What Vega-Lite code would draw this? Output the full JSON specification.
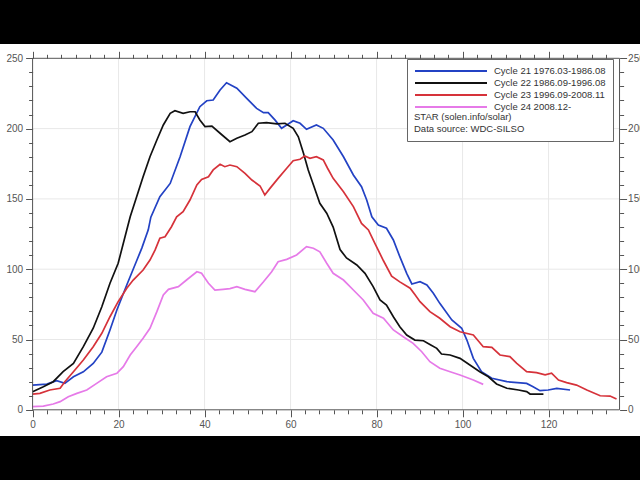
{
  "$schema": "https://vega.github.io/schema/vega-lite/v6.json",
  "description": "Smoothed sunspot number by month of solar cycle, cycles 21-24",
  "width": 640,
  "height": 392,
  "autosize": "none",
  "padding": {"top": 44, "bottom": 44, "left": 0, "right": 0},
  "background": "black",
  "config": {
    "view": {"fill": "white", "stroke": null},
    "font": "Liberation Sans"
  },
  "datasets": {
    "gridx": [{"v": 20}, {"v": 40}, {"v": 60}, {"v": 80}, {"v": 100}, {"v": 120}],
    "gridy": [{"v": 50}, {"v": 100}, {"v": 150}, {"v": 200}],
    "ssn": [
      {"cycle": "Cycle 21 1976.03-1986.08", "month": 0, "ssn": 17.6},
      {"cycle": "Cycle 21 1976.03-1986.08", "month": 3.3, "ssn": 18.3},
      {"cycle": "Cycle 21 1976.03-1986.08", "month": 5.6, "ssn": 20.7},
      {"cycle": "Cycle 21 1976.03-1986.08", "month": 7.5, "ssn": 18.8},
      {"cycle": "Cycle 21 1976.03-1986.08", "month": 9.5, "ssn": 23.5},
      {"cycle": "Cycle 21 1976.03-1986.08", "month": 11.8, "ssn": 27},
      {"cycle": "Cycle 21 1976.03-1986.08", "month": 14.1, "ssn": 33},
      {"cycle": "Cycle 21 1976.03-1986.08", "month": 16.1, "ssn": 41},
      {"cycle": "Cycle 21 1976.03-1986.08", "month": 18, "ssn": 56.8},
      {"cycle": "Cycle 21 1976.03-1986.08", "month": 19.6, "ssn": 71},
      {"cycle": "Cycle 21 1976.03-1986.08", "month": 21.9, "ssn": 88.8},
      {"cycle": "Cycle 21 1976.03-1986.08", "month": 24.2, "ssn": 106},
      {"cycle": "Cycle 21 1976.03-1986.08", "month": 25.4, "ssn": 115},
      {"cycle": "Cycle 21 1976.03-1986.08", "month": 26.9, "ssn": 128},
      {"cycle": "Cycle 21 1976.03-1986.08", "month": 27.5, "ssn": 137},
      {"cycle": "Cycle 21 1976.03-1986.08", "month": 29.6, "ssn": 151.6},
      {"cycle": "Cycle 21 1976.03-1986.08", "month": 32, "ssn": 161},
      {"cycle": "Cycle 21 1976.03-1986.08", "month": 34.3, "ssn": 180},
      {"cycle": "Cycle 21 1976.03-1986.08", "month": 36.6, "ssn": 201.4},
      {"cycle": "Cycle 21 1976.03-1986.08", "month": 38.9, "ssn": 215.6},
      {"cycle": "Cycle 21 1976.03-1986.08", "month": 40.5, "ssn": 219.8},
      {"cycle": "Cycle 21 1976.03-1986.08", "month": 42, "ssn": 220.3},
      {"cycle": "Cycle 21 1976.03-1986.08", "month": 43.6, "ssn": 227.5},
      {"cycle": "Cycle 21 1976.03-1986.08", "month": 45.1, "ssn": 232.6},
      {"cycle": "Cycle 21 1976.03-1986.08", "month": 47.5, "ssn": 228.7},
      {"cycle": "Cycle 21 1976.03-1986.08", "month": 49.8, "ssn": 221.5},
      {"cycle": "Cycle 21 1976.03-1986.08", "month": 52.1, "ssn": 214.4},
      {"cycle": "Cycle 21 1976.03-1986.08", "month": 53.7, "ssn": 211.3},
      {"cycle": "Cycle 21 1976.03-1986.08", "month": 54.8, "ssn": 211.3},
      {"cycle": "Cycle 21 1976.03-1986.08", "month": 56.4, "ssn": 206},
      {"cycle": "Cycle 21 1976.03-1986.08", "month": 57.9, "ssn": 200.2},
      {"cycle": "Cycle 21 1976.03-1986.08", "month": 59.1, "ssn": 202.6},
      {"cycle": "Cycle 21 1976.03-1986.08", "month": 60.6, "ssn": 205.6},
      {"cycle": "Cycle 21 1976.03-1986.08", "month": 62.2, "ssn": 203.8},
      {"cycle": "Cycle 21 1976.03-1986.08", "month": 63.7, "ssn": 199.5},
      {"cycle": "Cycle 21 1976.03-1986.08", "month": 66, "ssn": 202.6},
      {"cycle": "Cycle 21 1976.03-1986.08", "month": 67.6, "ssn": 200.2},
      {"cycle": "Cycle 21 1976.03-1986.08", "month": 69.9, "ssn": 191.9},
      {"cycle": "Cycle 21 1976.03-1986.08", "month": 72.3, "ssn": 180},
      {"cycle": "Cycle 21 1976.03-1986.08", "month": 74.6, "ssn": 167},
      {"cycle": "Cycle 21 1976.03-1986.08", "month": 76.5, "ssn": 158.7},
      {"cycle": "Cycle 21 1976.03-1986.08", "month": 77.7, "ssn": 149.2},
      {"cycle": "Cycle 21 1976.03-1986.08", "month": 78.9, "ssn": 137.3},
      {"cycle": "Cycle 21 1976.03-1986.08", "month": 80.4, "ssn": 131.4},
      {"cycle": "Cycle 21 1976.03-1986.08", "month": 82.3, "ssn": 129.1},
      {"cycle": "Cycle 21 1976.03-1986.08", "month": 83.9, "ssn": 120.8},
      {"cycle": "Cycle 21 1976.03-1986.08", "month": 85.4, "ssn": 108.9},
      {"cycle": "Cycle 21 1976.03-1986.08", "month": 87, "ssn": 97.1},
      {"cycle": "Cycle 21 1976.03-1986.08", "month": 88.2, "ssn": 89.5},
      {"cycle": "Cycle 21 1976.03-1986.08", "month": 90.1, "ssn": 91.1},
      {"cycle": "Cycle 21 1976.03-1986.08", "month": 91.7, "ssn": 88.8},
      {"cycle": "Cycle 21 1976.03-1986.08", "month": 93.2, "ssn": 82.9},
      {"cycle": "Cycle 21 1976.03-1986.08", "month": 94.7, "ssn": 75.7},
      {"cycle": "Cycle 21 1976.03-1986.08", "month": 97.5, "ssn": 63.9},
      {"cycle": "Cycle 21 1976.03-1986.08", "month": 99.8, "ssn": 58},
      {"cycle": "Cycle 21 1976.03-1986.08", "month": 101, "ssn": 49.6},
      {"cycle": "Cycle 21 1976.03-1986.08", "month": 102.5, "ssn": 36.6},
      {"cycle": "Cycle 21 1976.03-1986.08", "month": 104.4, "ssn": 27.1},
      {"cycle": "Cycle 21 1976.03-1986.08", "month": 106.8, "ssn": 22.4},
      {"cycle": "Cycle 21 1976.03-1986.08", "month": 110.3, "ssn": 20},
      {"cycle": "Cycle 21 1976.03-1986.08", "month": 114.9, "ssn": 18.8},
      {"cycle": "Cycle 21 1976.03-1986.08", "month": 116.4, "ssn": 16.4},
      {"cycle": "Cycle 21 1976.03-1986.08", "month": 118, "ssn": 13.6},
      {"cycle": "Cycle 21 1976.03-1986.08", "month": 119.9, "ssn": 14.1},
      {"cycle": "Cycle 21 1976.03-1986.08", "month": 121.9, "ssn": 15.3},
      {"cycle": "Cycle 21 1976.03-1986.08", "month": 125, "ssn": 14.1},
      {"cycle": "Cycle 22 1986.09-1996.08", "month": 0, "ssn": 12.9},
      {"cycle": "Cycle 22 1986.09-1996.08", "month": 2.5, "ssn": 16.4},
      {"cycle": "Cycle 22 1986.09-1996.08", "month": 4.8, "ssn": 20},
      {"cycle": "Cycle 22 1986.09-1996.08", "month": 7.1, "ssn": 27.1},
      {"cycle": "Cycle 22 1986.09-1996.08", "month": 9.5, "ssn": 33},
      {"cycle": "Cycle 22 1986.09-1996.08", "month": 11.8, "ssn": 44.9},
      {"cycle": "Cycle 22 1986.09-1996.08", "month": 14.1, "ssn": 58},
      {"cycle": "Cycle 22 1986.09-1996.08", "month": 16.1, "ssn": 73.3},
      {"cycle": "Cycle 22 1986.09-1996.08", "month": 18, "ssn": 90},
      {"cycle": "Cycle 22 1986.09-1996.08", "month": 19.9, "ssn": 104.2},
      {"cycle": "Cycle 22 1986.09-1996.08", "month": 21.9, "ssn": 127.9},
      {"cycle": "Cycle 22 1986.09-1996.08", "month": 22.7, "ssn": 137.3},
      {"cycle": "Cycle 22 1986.09-1996.08", "month": 24.2, "ssn": 151.6},
      {"cycle": "Cycle 22 1986.09-1996.08", "month": 25.7, "ssn": 165.8},
      {"cycle": "Cycle 22 1986.09-1996.08", "month": 27.3, "ssn": 180},
      {"cycle": "Cycle 22 1986.09-1996.08", "month": 28.9, "ssn": 191.9},
      {"cycle": "Cycle 22 1986.09-1996.08", "month": 30.4, "ssn": 202.6},
      {"cycle": "Cycle 22 1986.09-1996.08", "month": 32, "ssn": 210.9},
      {"cycle": "Cycle 22 1986.09-1996.08", "month": 33.1, "ssn": 212.7},
      {"cycle": "Cycle 22 1986.09-1996.08", "month": 35, "ssn": 210.9},
      {"cycle": "Cycle 22 1986.09-1996.08", "month": 36.6, "ssn": 212},
      {"cycle": "Cycle 22 1986.09-1996.08", "month": 37.8, "ssn": 212},
      {"cycle": "Cycle 22 1986.09-1996.08", "month": 38.9, "ssn": 206.1},
      {"cycle": "Cycle 22 1986.09-1996.08", "month": 40.1, "ssn": 201.4},
      {"cycle": "Cycle 22 1986.09-1996.08", "month": 41.7, "ssn": 201.8},
      {"cycle": "Cycle 22 1986.09-1996.08", "month": 43.6, "ssn": 196.7},
      {"cycle": "Cycle 22 1986.09-1996.08", "month": 45.9, "ssn": 190.7},
      {"cycle": "Cycle 22 1986.09-1996.08", "month": 47.5, "ssn": 193.1},
      {"cycle": "Cycle 22 1986.09-1996.08", "month": 49.4, "ssn": 195.4},
      {"cycle": "Cycle 22 1986.09-1996.08", "month": 51, "ssn": 197.8},
      {"cycle": "Cycle 22 1986.09-1996.08", "month": 52.5, "ssn": 203.8},
      {"cycle": "Cycle 22 1986.09-1996.08", "month": 54.4, "ssn": 204.2},
      {"cycle": "Cycle 22 1986.09-1996.08", "month": 56.8, "ssn": 203.3},
      {"cycle": "Cycle 22 1986.09-1996.08", "month": 58.7, "ssn": 203.8},
      {"cycle": "Cycle 22 1986.09-1996.08", "month": 60.6, "ssn": 200.2},
      {"cycle": "Cycle 22 1986.09-1996.08", "month": 61.8, "ssn": 194.2},
      {"cycle": "Cycle 22 1986.09-1996.08", "month": 63, "ssn": 182.4},
      {"cycle": "Cycle 22 1986.09-1996.08", "month": 64.1, "ssn": 170.6},
      {"cycle": "Cycle 22 1986.09-1996.08", "month": 65.3, "ssn": 160},
      {"cycle": "Cycle 22 1986.09-1996.08", "month": 66.8, "ssn": 146.9},
      {"cycle": "Cycle 22 1986.09-1996.08", "month": 68.4, "ssn": 139.8},
      {"cycle": "Cycle 22 1986.09-1996.08", "month": 69.9, "ssn": 130},
      {"cycle": "Cycle 22 1986.09-1996.08", "month": 71.5, "ssn": 114},
      {"cycle": "Cycle 22 1986.09-1996.08", "month": 73, "ssn": 108},
      {"cycle": "Cycle 22 1986.09-1996.08", "month": 75.4, "ssn": 103},
      {"cycle": "Cycle 22 1986.09-1996.08", "month": 77.3, "ssn": 97.1},
      {"cycle": "Cycle 22 1986.09-1996.08", "month": 79.2, "ssn": 87.6},
      {"cycle": "Cycle 22 1986.09-1996.08", "month": 80.8, "ssn": 78.1},
      {"cycle": "Cycle 22 1986.09-1996.08", "month": 82.3, "ssn": 74.5},
      {"cycle": "Cycle 22 1986.09-1996.08", "month": 83.9, "ssn": 66.2},
      {"cycle": "Cycle 22 1986.09-1996.08", "month": 85.4, "ssn": 59.1},
      {"cycle": "Cycle 22 1986.09-1996.08", "month": 87, "ssn": 53.2},
      {"cycle": "Cycle 22 1986.09-1996.08", "month": 88.9, "ssn": 49.6},
      {"cycle": "Cycle 22 1986.09-1996.08", "month": 90.9, "ssn": 49.1},
      {"cycle": "Cycle 22 1986.09-1996.08", "month": 92.4, "ssn": 46.5},
      {"cycle": "Cycle 22 1986.09-1996.08", "month": 94, "ssn": 43.7},
      {"cycle": "Cycle 22 1986.09-1996.08", "month": 95.1, "ssn": 39.7},
      {"cycle": "Cycle 22 1986.09-1996.08", "month": 97.1, "ssn": 39},
      {"cycle": "Cycle 22 1986.09-1996.08", "month": 99.4, "ssn": 36.6},
      {"cycle": "Cycle 22 1986.09-1996.08", "month": 101.7, "ssn": 31.9},
      {"cycle": "Cycle 22 1986.09-1996.08", "month": 104, "ssn": 27.1},
      {"cycle": "Cycle 22 1986.09-1996.08", "month": 106, "ssn": 23.5},
      {"cycle": "Cycle 22 1986.09-1996.08", "month": 107.9, "ssn": 18.4},
      {"cycle": "Cycle 22 1986.09-1996.08", "month": 110.3, "ssn": 15.3},
      {"cycle": "Cycle 22 1986.09-1996.08", "month": 113, "ssn": 14.1},
      {"cycle": "Cycle 22 1986.09-1996.08", "month": 114.9, "ssn": 12.9},
      {"cycle": "Cycle 22 1986.09-1996.08", "month": 115.7, "ssn": 11.2},
      {"cycle": "Cycle 22 1986.09-1996.08", "month": 118.8, "ssn": 11.2},
      {"cycle": "Cycle 23 1996.09-2008.11", "month": 0, "ssn": 11.2},
      {"cycle": "Cycle 23 1996.09-2008.11", "month": 1.7, "ssn": 11.7},
      {"cycle": "Cycle 23 1996.09-2008.11", "month": 4, "ssn": 14.1},
      {"cycle": "Cycle 23 1996.09-2008.11", "month": 6.4, "ssn": 15.3},
      {"cycle": "Cycle 23 1996.09-2008.11", "month": 7.5, "ssn": 20},
      {"cycle": "Cycle 23 1996.09-2008.11", "month": 9.5, "ssn": 27.1},
      {"cycle": "Cycle 23 1996.09-2008.11", "month": 11.8, "ssn": 35.4},
      {"cycle": "Cycle 23 1996.09-2008.11", "month": 14.1, "ssn": 44.9},
      {"cycle": "Cycle 23 1996.09-2008.11", "month": 16.1, "ssn": 54.4},
      {"cycle": "Cycle 23 1996.09-2008.11", "month": 18, "ssn": 66.2},
      {"cycle": "Cycle 23 1996.09-2008.11", "month": 19.9, "ssn": 76.9},
      {"cycle": "Cycle 23 1996.09-2008.11", "month": 21.9, "ssn": 86.4},
      {"cycle": "Cycle 23 1996.09-2008.11", "month": 23.4, "ssn": 92.3},
      {"cycle": "Cycle 23 1996.09-2008.11", "month": 25.7, "ssn": 99.4},
      {"cycle": "Cycle 23 1996.09-2008.11", "month": 27.3, "ssn": 106.5},
      {"cycle": "Cycle 23 1996.09-2008.11", "month": 28.5, "ssn": 113.7},
      {"cycle": "Cycle 23 1996.09-2008.11", "month": 29.6, "ssn": 122},
      {"cycle": "Cycle 23 1996.09-2008.11", "month": 30.8, "ssn": 123.1},
      {"cycle": "Cycle 23 1996.09-2008.11", "month": 32.3, "ssn": 130.2},
      {"cycle": "Cycle 23 1996.09-2008.11", "month": 33.5, "ssn": 137.3},
      {"cycle": "Cycle 23 1996.09-2008.11", "month": 35, "ssn": 140.9},
      {"cycle": "Cycle 23 1996.09-2008.11", "month": 36.6, "ssn": 149.2},
      {"cycle": "Cycle 23 1996.09-2008.11", "month": 38.2, "ssn": 159.9},
      {"cycle": "Cycle 23 1996.09-2008.11", "month": 39.3, "ssn": 163.9},
      {"cycle": "Cycle 23 1996.09-2008.11", "month": 40.9, "ssn": 165.8},
      {"cycle": "Cycle 23 1996.09-2008.11", "month": 42, "ssn": 170.6},
      {"cycle": "Cycle 23 1996.09-2008.11", "month": 43.6, "ssn": 174.6},
      {"cycle": "Cycle 23 1996.09-2008.11", "month": 44.7, "ssn": 172.9},
      {"cycle": "Cycle 23 1996.09-2008.11", "month": 45.9, "ssn": 174.1},
      {"cycle": "Cycle 23 1996.09-2008.11", "month": 47.5, "ssn": 172.9},
      {"cycle": "Cycle 23 1996.09-2008.11", "month": 49.4, "ssn": 168.2},
      {"cycle": "Cycle 23 1996.09-2008.11", "month": 51, "ssn": 163.4},
      {"cycle": "Cycle 23 1996.09-2008.11", "month": 52.9, "ssn": 159.2},
      {"cycle": "Cycle 23 1996.09-2008.11", "month": 54, "ssn": 152.8},
      {"cycle": "Cycle 23 1996.09-2008.11", "month": 55.2, "ssn": 157.5},
      {"cycle": "Cycle 23 1996.09-2008.11", "month": 57.1, "ssn": 164.6},
      {"cycle": "Cycle 23 1996.09-2008.11", "month": 59.1, "ssn": 171.8},
      {"cycle": "Cycle 23 1996.09-2008.11", "month": 60.6, "ssn": 177.2},
      {"cycle": "Cycle 23 1996.09-2008.11", "month": 62.2, "ssn": 178.2},
      {"cycle": "Cycle 23 1996.09-2008.11", "month": 63.3, "ssn": 180.5},
      {"cycle": "Cycle 23 1996.09-2008.11", "month": 64.5, "ssn": 178.9},
      {"cycle": "Cycle 23 1996.09-2008.11", "month": 66, "ssn": 180},
      {"cycle": "Cycle 23 1996.09-2008.11", "month": 67.6, "ssn": 177.7},
      {"cycle": "Cycle 23 1996.09-2008.11", "month": 68.6, "ssn": 171.8},
      {"cycle": "Cycle 23 1996.09-2008.11", "month": 69.9, "ssn": 164.6},
      {"cycle": "Cycle 23 1996.09-2008.11", "month": 72.3, "ssn": 155.1},
      {"cycle": "Cycle 23 1996.09-2008.11", "month": 74.6, "ssn": 144.5},
      {"cycle": "Cycle 23 1996.09-2008.11", "month": 76.5, "ssn": 132.6},
      {"cycle": "Cycle 23 1996.09-2008.11", "month": 78.1, "ssn": 127.9},
      {"cycle": "Cycle 23 1996.09-2008.11", "month": 79.6, "ssn": 118.4},
      {"cycle": "Cycle 23 1996.09-2008.11", "month": 81.6, "ssn": 106},
      {"cycle": "Cycle 23 1996.09-2008.11", "month": 83.5, "ssn": 95},
      {"cycle": "Cycle 23 1996.09-2008.11", "month": 85.4, "ssn": 91},
      {"cycle": "Cycle 23 1996.09-2008.11", "month": 87.8, "ssn": 86.5},
      {"cycle": "Cycle 23 1996.09-2008.11", "month": 88.9, "ssn": 82},
      {"cycle": "Cycle 23 1996.09-2008.11", "month": 90.1, "ssn": 76.9},
      {"cycle": "Cycle 23 1996.09-2008.11", "month": 92.4, "ssn": 69.8},
      {"cycle": "Cycle 23 1996.09-2008.11", "month": 94.7, "ssn": 65.1},
      {"cycle": "Cycle 23 1996.09-2008.11", "month": 97.1, "ssn": 59.1},
      {"cycle": "Cycle 23 1996.09-2008.11", "month": 99.4, "ssn": 55.5},
      {"cycle": "Cycle 23 1996.09-2008.11", "month": 102.5, "ssn": 53.2},
      {"cycle": "Cycle 23 1996.09-2008.11", "month": 104.8, "ssn": 44.9},
      {"cycle": "Cycle 23 1996.09-2008.11", "month": 106.8, "ssn": 44.4},
      {"cycle": "Cycle 23 1996.09-2008.11", "month": 108.7, "ssn": 39},
      {"cycle": "Cycle 23 1996.09-2008.11", "month": 111, "ssn": 37.8},
      {"cycle": "Cycle 23 1996.09-2008.11", "month": 112.6, "ssn": 33},
      {"cycle": "Cycle 23 1996.09-2008.11", "month": 114.9, "ssn": 27.1},
      {"cycle": "Cycle 23 1996.09-2008.11", "month": 117.2, "ssn": 26.4},
      {"cycle": "Cycle 23 1996.09-2008.11", "month": 119.2, "ssn": 24.8},
      {"cycle": "Cycle 23 1996.09-2008.11", "month": 120.7, "ssn": 26},
      {"cycle": "Cycle 23 1996.09-2008.11", "month": 122.3, "ssn": 21.2},
      {"cycle": "Cycle 23 1996.09-2008.11", "month": 124.2, "ssn": 19.3},
      {"cycle": "Cycle 23 1996.09-2008.11", "month": 126.5, "ssn": 17.6},
      {"cycle": "Cycle 23 1996.09-2008.11", "month": 128.9, "ssn": 14.1},
      {"cycle": "Cycle 23 1996.09-2008.11", "month": 132, "ssn": 10},
      {"cycle": "Cycle 23 1996.09-2008.11", "month": 134.3, "ssn": 9.8},
      {"cycle": "Cycle 23 1996.09-2008.11", "month": 135.8, "ssn": 7.7},
      {"cycle": "Cycle 24 2008.12-", "month": 0, "ssn": 2.2},
      {"cycle": "Cycle 24 2008.12-", "month": 2.5, "ssn": 2.6},
      {"cycle": "Cycle 24 2008.12-", "month": 4.8, "ssn": 4.1},
      {"cycle": "Cycle 24 2008.12-", "month": 6.4, "ssn": 5.8},
      {"cycle": "Cycle 24 2008.12-", "month": 8.3, "ssn": 9.3},
      {"cycle": "Cycle 24 2008.12-", "month": 10.3, "ssn": 11.7},
      {"cycle": "Cycle 24 2008.12-", "month": 12.6, "ssn": 14.1},
      {"cycle": "Cycle 24 2008.12-", "month": 14.9, "ssn": 18.8},
      {"cycle": "Cycle 24 2008.12-", "month": 17.2, "ssn": 23.5},
      {"cycle": "Cycle 24 2008.12-", "month": 19.6, "ssn": 26},
      {"cycle": "Cycle 24 2008.12-", "month": 21.1, "ssn": 30.7},
      {"cycle": "Cycle 24 2008.12-", "month": 22.7, "ssn": 39},
      {"cycle": "Cycle 24 2008.12-", "month": 24.2, "ssn": 44.9},
      {"cycle": "Cycle 24 2008.12-", "month": 25.7, "ssn": 50.9},
      {"cycle": "Cycle 24 2008.12-", "month": 27.3, "ssn": 58},
      {"cycle": "Cycle 24 2008.12-", "month": 28.9, "ssn": 69.8},
      {"cycle": "Cycle 24 2008.12-", "month": 30.4, "ssn": 81.7},
      {"cycle": "Cycle 24 2008.12-", "month": 31.6, "ssn": 85.7},
      {"cycle": "Cycle 24 2008.12-", "month": 33.9, "ssn": 87.6},
      {"cycle": "Cycle 24 2008.12-", "month": 35.8, "ssn": 92.3},
      {"cycle": "Cycle 24 2008.12-", "month": 38.2, "ssn": 98.2},
      {"cycle": "Cycle 24 2008.12-", "month": 39.3, "ssn": 97.1},
      {"cycle": "Cycle 24 2008.12-", "month": 40.9, "ssn": 90},
      {"cycle": "Cycle 24 2008.12-", "month": 42.4, "ssn": 85.2},
      {"cycle": "Cycle 24 2008.12-", "month": 44.3, "ssn": 85.7},
      {"cycle": "Cycle 24 2008.12-", "month": 45.9, "ssn": 86.2},
      {"cycle": "Cycle 24 2008.12-", "month": 47.5, "ssn": 87.6},
      {"cycle": "Cycle 24 2008.12-", "month": 49.4, "ssn": 85.7},
      {"cycle": "Cycle 24 2008.12-", "month": 51.7, "ssn": 84},
      {"cycle": "Cycle 24 2008.12-", "month": 53.7, "ssn": 91.1},
      {"cycle": "Cycle 24 2008.12-", "month": 55.6, "ssn": 98.2},
      {"cycle": "Cycle 24 2008.12-", "month": 57.1, "ssn": 105.3},
      {"cycle": "Cycle 24 2008.12-", "month": 59.1, "ssn": 107},
      {"cycle": "Cycle 24 2008.12-", "month": 61.4, "ssn": 110.1},
      {"cycle": "Cycle 24 2008.12-", "month": 63.7, "ssn": 116},
      {"cycle": "Cycle 24 2008.12-", "month": 65.3, "ssn": 114.9},
      {"cycle": "Cycle 24 2008.12-", "month": 66.8, "ssn": 112.4},
      {"cycle": "Cycle 24 2008.12-", "month": 68.4, "ssn": 104.2},
      {"cycle": "Cycle 24 2008.12-", "month": 69.9, "ssn": 97.1},
      {"cycle": "Cycle 24 2008.12-", "month": 72.3, "ssn": 92.3},
      {"cycle": "Cycle 24 2008.12-", "month": 74.6, "ssn": 85.2},
      {"cycle": "Cycle 24 2008.12-", "month": 76.9, "ssn": 78.1},
      {"cycle": "Cycle 24 2008.12-", "month": 79.2, "ssn": 68.6},
      {"cycle": "Cycle 24 2008.12-", "month": 81.6, "ssn": 65.1},
      {"cycle": "Cycle 24 2008.12-", "month": 83.9, "ssn": 56.8},
      {"cycle": "Cycle 24 2008.12-", "month": 86.2, "ssn": 52},
      {"cycle": "Cycle 24 2008.12-", "month": 88.5, "ssn": 47.3},
      {"cycle": "Cycle 24 2008.12-", "month": 90.5, "ssn": 41.3},
      {"cycle": "Cycle 24 2008.12-", "month": 92.4, "ssn": 34.2},
      {"cycle": "Cycle 24 2008.12-", "month": 94.7, "ssn": 29.5},
      {"cycle": "Cycle 24 2008.12-", "month": 97.1, "ssn": 27.1},
      {"cycle": "Cycle 24 2008.12-", "month": 99.4, "ssn": 24.8},
      {"cycle": "Cycle 24 2008.12-", "month": 102.5, "ssn": 21.2},
      {"cycle": "Cycle 24 2008.12-", "month": 104.8, "ssn": 18.1}
    ]
  },
  "resolve": {"axis": {"x": "independent", "y": "independent"}},
  "layer": [
    {
      "data": {"name": "gridx"},
      "mark": {"type": "rule", "color": "#e8e8e8", "strokeWidth": 1},
      "encoding": {
        "x": {"field": "v", "type": "quantitative", "scale": {"domain": [-7.58, 141.26], "nice": false, "zero": false}, "axis": null},
        "y": {"datum": 0, "type": "quantitative", "scale": {"domain": [-18.63, 260.17], "nice": false, "zero": false}, "axis": null},
        "y2": {"datum": 250}
      }
    },
    {
      "data": {"name": "gridy"},
      "mark": {"type": "rule", "color": "#e8e8e8", "strokeWidth": 1},
      "encoding": {
        "y": {"field": "v", "type": "quantitative", "axis": null},
        "x": {"datum": 0, "type": "quantitative", "axis": null},
        "x2": {"datum": 136.5}
      }
    },
    {
      "data": {"name": "ssn"},
      "mark": {"type": "line", "strokeWidth": 1.7},
      "encoding": {
        "x": {
          "field": "month", "type": "quantitative",
          "axis": {
            "orient": "bottom", "offset": -26.2, "domain": false, "grid": false, "title": null,
            "values": [0, 3.333, 6.667, 10, 13.333, 16.667, 20, 23.333, 26.667, 30, 33.333, 36.667, 40, 43.333, 46.667, 50, 53.333, 56.667, 60, 63.333, 66.667, 70, 73.333, 76.667, 80, 83.333, 86.667, 90, 93.333, 96.667, 100, 103.333, 106.667, 110, 113.333, 116.667, 120, 123.333, 126.667, 130, 133.333],
            "labelExpr": "datum.value % 20 === 0 ? datum.label : ''",
            "tickSize": {"condition": {"test": "datum.value % 20 === 0", "value": 7}, "value": 4},
            "tickColor": "#555", "labelColor": "#555", "labelFontSize": 10, "labelPadding": 3,
            "labelOverlap": false, "labelFlush": false, "format": "d"
          }
        },
        "y": {
          "field": "ssn", "type": "quantitative",
          "axis": {
            "orient": "left", "offset": -32.6, "domain": false, "grid": false, "title": null,
            "values": [0, 10, 20, 30, 40, 50, 60, 70, 80, 90, 100, 110, 120, 130, 140, 150, 160, 170, 180, 190, 200, 210, 220, 230, 240, 250],
            "labelExpr": "datum.value % 50 === 0 ? datum.label : ''",
            "tickSize": {"condition": {"test": "datum.value % 50 === 0", "value": 7}, "value": 4},
            "tickColor": "#555", "labelColor": "#555", "labelFontSize": 10, "labelPadding": 3,
            "labelOverlap": false, "labelFlush": false
          }
        },
        "color": {
          "field": "cycle", "type": "nominal",
          "scale": {
            "domain": ["Cycle 21 1976.03-1986.08", "Cycle 22 1986.09-1996.08", "Cycle 23 1996.09-2008.11", "Cycle 24 2008.12-"],
            "range": ["#2342c4", "#111111", "#d6323a", "#e67ae8"]
          },
          "legend": {
            "orient": "none", "legendX": 407, "legendY": 15,
            "title": ["STAR (solen.info/solar)", "Data source: WDC-SILSO"],
            "titleOrient": "bottom", "titleAnchor": "start", "titleFontWeight": "normal",
            "titleFontSize": 9.5, "titleColor": "#333", "titleLineHeight": 12, "titlePadding": 0,
            "symbolType": "M-1,0H17", "symbolSize": 64, "symbolStrokeWidth": 2,
            "labelFontSize": 9.5, "labelColor": "#333", "labelOffset": 70, "labelLimit": 300,
            "fillColor": "white", "strokeColor": "#666", "padding": 7, "rowPadding": 2
          }
        }
      }
    },
    {
      "data": {"values": [{}]},
      "mark": {"type": "rule", "color": "#555", "strokeWidth": 1},
      "encoding": {
        "x": {"datum": 0, "type": "quantitative", "axis": null},
        "y": {"datum": 0, "type": "quantitative", "axis": null},
        "y2": {"datum": 250}
      }
    },
    {
      "data": {"values": [{}]},
      "mark": {"type": "rule", "color": "#555", "strokeWidth": 1},
      "encoding": {
        "y": {"datum": 0, "type": "quantitative", "axis": null},
        "x": {"datum": 0, "type": "quantitative", "axis": null},
        "x2": {"datum": 136.5}
      }
    },
    {
      "data": {"values": [{}]},
      "mark": {"type": "rule", "color": "#555", "strokeWidth": 1},
      "encoding": {
        "y": {"datum": 250, "type": "quantitative", "axis": null},
        "x": {"datum": 0, "type": "quantitative", "axis": null},
        "x2": {"datum": 136.5}
      }
    },
    {
      "data": {"values": [{}]},
      "mark": {"type": "rule", "color": "#555", "strokeWidth": 1},
      "encoding": {
        "x": {
          "datum": 136.5, "type": "quantitative",
          "axis": {
            "orient": "top", "offset": -14.3, "domain": false, "grid": false, "title": null, "labels": false,
            "values": [0, 3.333, 6.667, 10, 13.333, 16.667, 20, 23.333, 26.667, 30, 33.333, 36.667, 40, 43.333, 46.667, 50, 53.333, 56.667, 60, 63.333, 66.667, 70, 73.333, 76.667, 80, 83.333, 86.667, 90, 93.333, 96.667, 100, 103.333, 106.667, 110, 113.333, 116.667, 120, 123.333, 126.667, 130, 133.333],
            "tickSize": {"condition": {"test": "datum.value % 20 === 0", "value": 7}, "value": 4},
            "tickColor": "#555"
          }
        },
        "y": {
          "datum": 0, "type": "quantitative",
          "axis": {
            "orient": "right", "offset": -20.4, "domain": false, "grid": false, "title": null,
            "values": [0, 10, 20, 30, 40, 50, 60, 70, 80, 90, 100, 110, 120, 130, 140, 150, 160, 170, 180, 190, 200, 210, 220, 230, 240, 250],
            "labelExpr": "datum.value % 50 === 0 ? datum.label : ''",
            "tickSize": {"condition": {"test": "datum.value % 50 === 0", "value": 7}, "value": 4},
            "tickColor": "#555", "labelColor": "#555", "labelFontSize": 10, "labelPadding": 1,
            "labelOverlap": false, "labelFlush": false
          }
        },
        "y2": {"datum": 250}
      }
    }
  ]
}
